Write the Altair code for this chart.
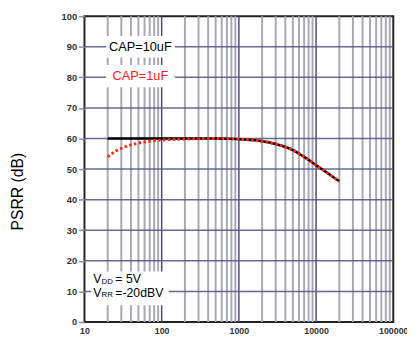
import altair as alt
import pandas as pd

# ---- data ----
freq_black = [20, 30, 50, 100, 200, 500, 1000, 1500, 2000, 3000, 5000, 7000, 10000, 15000, 20000]
psrr_black = [60, 60, 60, 60, 60, 60, 59.8, 59.5, 59.1, 58.2, 56.2, 54.0, 51.3, 48.2, 46.0]

freq_red = [20, 25, 30, 40, 50, 70, 100, 200, 500, 1000, 1500, 2000, 3000, 5000, 7000, 10000, 15000, 20000]
psrr_red = [54.0, 55.8, 56.8, 57.9, 58.5, 59.1, 59.5, 59.8, 60.0, 59.8, 59.5, 59.1, 58.2, 56.2, 54.0, 51.3, 48.2, 46.0]

x_ticks = [10, 100, 1000, 10000, 100000]
y_ticks = [0, 10, 20, 30, 40, 50, 60, 70, 80, 90, 100]
h_grid = [10, 20, 30, 40, 50, 60, 70, 80, 90]
v_minor = [m * d for d in [10, 100, 1000, 10000] for m in range(2, 10)]
v_major = [100, 1000, 10000]

cap_labels = ["CAP=10uF", "CAP=1uF"]
cond_main = ["V", "V"]
cond_sub = ["DD", "RR"]
cond_rest = ["= 5V", "=-20dBV"]

FONT = "Liberation Sans"
xs = alt.Scale(type="log", domain=[10, 100000])
ys = alt.Scale(domain=[0, 100], nice=False)

x_axis = alt.Axis(values=x_ticks, format="d", title=None, tickSize=0,
                  labelPadding=5, labelFont=FONT, labelFontWeight="bold",
                  labelFontSize=9, labelColor="#333333", domain=False,
                  grid=False, labelFlush=False, labelOverlap=False)
y_axis = alt.Axis(values=y_ticks, title=None, tickSize=6, tickColor="#8a8a9a",
                  tickWidth=1.5, labelPadding=2, labelFont=FONT,
                  labelFontWeight="bold", labelFontSize=9.5, labelColor="#333333",
                  domain=False, grid=False, labelOverlap=False)


def X(field):
    return alt.X(field, scale=xs, axis=x_axis)


def Y(field):
    return alt.Y(field, scale=ys, axis=y_axis)


df_black = pd.DataFrame({"f": freq_black, "p": psrr_black})
df_red = pd.DataFrame({"f": freq_red, "p": psrr_red})

vminor = alt.Chart(pd.DataFrame({"f": v_minor})).mark_rule(
    color="#a8a8b4", strokeWidth=2).encode(x=X("f:Q"))
vmajor = alt.Chart(pd.DataFrame({"f": v_major})).mark_rule(
    color="#4a4a72", strokeWidth=1.5).encode(x=X("f:Q"))
hgrid = alt.Chart(pd.DataFrame({"p": h_grid})).mark_rule(
    color="#5a5a88", strokeWidth=1.5, opacity=0.9).encode(y=Y("p:Q"))

# white boxes behind annotations
boxes = pd.DataFrame({
    "f1": [19.1, 19.1, 12.3],
    "f2": [148, 148, 123],
    "p1": [86.5, 76.8, 5.5],
    "p2": [93.5, 84.0, 16.5],
})
box = alt.Chart(boxes).mark_rect(color="white").encode(
    x=X("f1:Q"), x2="f2:Q", y=Y("p1:Q"), y2="p2:Q")

black_line = alt.Chart(df_black).mark_line(
    color="black", strokeWidth=2.5, interpolate="monotone").encode(
    x=X("f:Q"), y=Y("p:Q"))
red_line = alt.Chart(df_red).mark_line(
    color="#ff2a10", strokeWidth=3, strokeDash=[2.5, 2.5], interpolate="monotone").encode(
    x=X("f:Q"), y=Y("p:Q"))

labels = pd.DataFrame({
    "f": [53, 53],
    "p": [90.0, 80.4],
    "t": cap_labels,
    "c": ["black", "#ff1a1a"],
})
cap_text = alt.Chart(labels).mark_text(
    font=FONT, fontSize=13, baseline="middle", align="center").encode(
    x=X("f:Q"), y=Y("p:Q"), text="t:N", color=alt.Color("c:N", scale=None))

cond = pd.DataFrame({
    "f": [13, 13],
    "p": [14.0, 9.6],
    "m": cond_main,
    "s": cond_sub,
    "r": cond_rest,
})
base = alt.Chart(cond).encode(x=X("f:Q"), y=Y("p:Q"))
c_main = base.mark_text(font=FONT, fontSize=12.5, baseline="middle", align="left",
                        color="black").encode(text="m:N")
c_sub = base.mark_text(font=FONT, fontSize=8, baseline="middle", align="left",
                       color="black", dx=8.5, dy=2.5).encode(text="s:N")
c_rest = base.mark_text(font=FONT, fontSize=12.5, baseline="middle", align="left",
                        color="black", dx=22.5).encode(text="r:N")

ytitle = alt.Chart(pd.DataFrame({"t": ["PSRR (dB)"]})).mark_text(
    font=FONT, fontSize=16, angle=270, baseline="middle", align="center",
    color="black").encode(x=alt.value(-68), y=alt.value(179), text="t:N")

chart = alt.layer(vminor, vmajor, hgrid, box, black_line, red_line, cap_text,
                  c_main, c_sub, c_rest, ytitle).properties(
    width=315, height=312,
    autosize=alt.AutoSizeParams(type="none"),
    padding={"left": 78, "top": 5, "right": 14, "bottom": 15},
).configure_view(stroke="#222222", strokeWidth=2)

chart.save("out.html", embed_options={"renderer": "svg", "actions": False})
